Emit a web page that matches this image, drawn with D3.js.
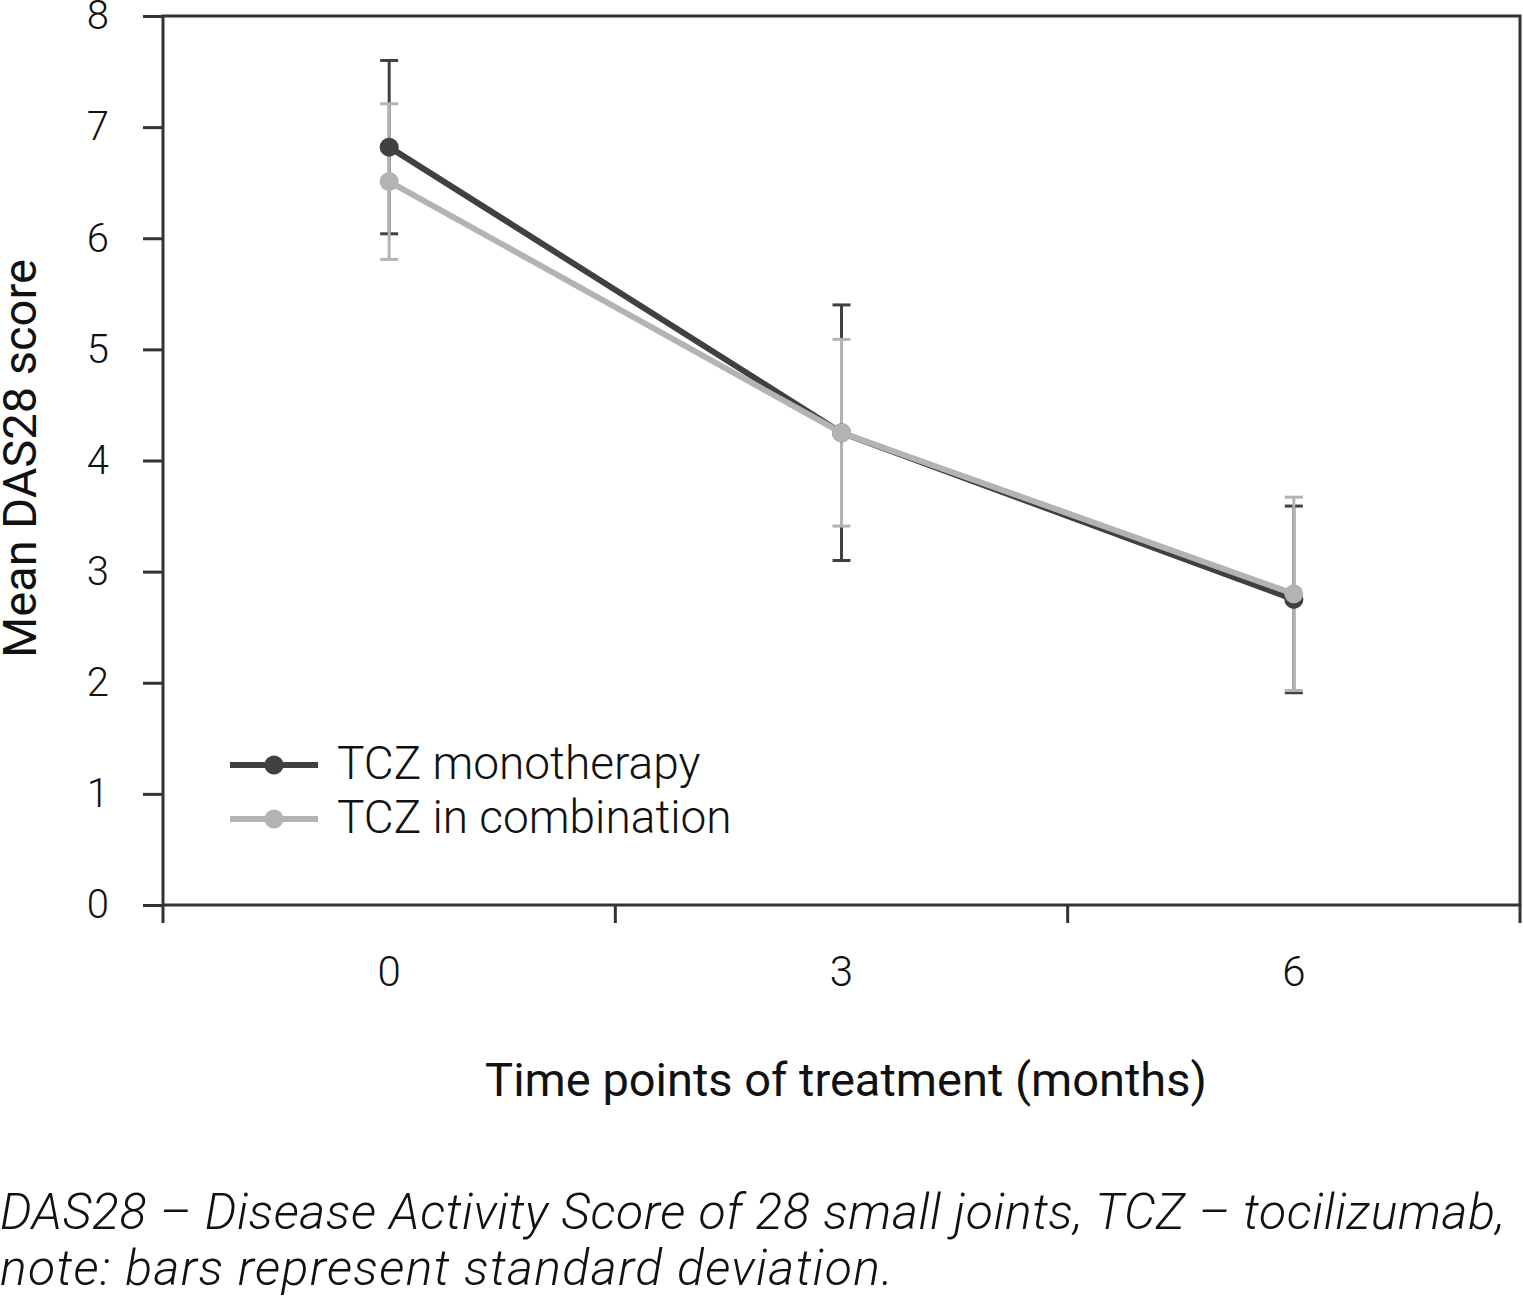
<!DOCTYPE html>
<html>
<head>
<meta charset="utf-8">
<script src="https://cdn.jsdelivr.net/npm/d3@7"></script>
<style>
  body { margin: 0; background: #fff; }
  svg text { font-family: Roboto, "Open Sans", sans-serif; fill: #111; }
</style>
</head>
<body>
<svg id="chart" width="1523" height="1308"></svg>
<script>
const months = ["0", "3", "6"];
const monoMean = [6.82, 4.25, 2.75];
const monoSD = [0.78, 1.15, 0.84];
const comboMean = [6.51, 4.25, 2.80];
const comboSD = [0.70, 0.84, 0.87];
const yTicks = [0, 1, 2, 3, 4, 5, 6, 7, 8];

const series = [
    { name: "TCZ monotherapy", mean: monoMean, sd: monoSD, color: "#404040" },
    { name: "TCZ in combination", mean: comboMean, sd: comboSD, color: "#b3b3b3" }
];

const margin = { left: 163, right: 3, top: 16, bottom: 403 };
const width = 1523 - margin.left - margin.right;
const height = 1308 - margin.top - margin.bottom;

const svg = d3.select("#chart");
const vis = svg.append("g").attr("transform", `translate(${margin.left}, ${margin.top})`);

const xScale = d3.scaleBand().domain(months).range([0, width]);
const yScale = d3.scaleLinear().domain([0, 8]).range([height, 0]);
const cx = m => xScale(m) + xScale.bandwidth() / 2;

// frame
vis.append("rect")
    .attr("x", 0).attr("y", 0)
    .attr("width", width).attr("height", height)
    .attr("fill", "none").attr("stroke", "#333").attr("stroke-width", 3);

// Y axis
const yAxis = vis.append("g")
    .call(d3.axisLeft(yScale).tickValues(yTicks).tickSize(20).tickPadding(34).tickFormat(d3.format("d")));
yAxis.select(".domain").remove();
yAxis.selectAll(".tick line").attr("stroke", "#333").attr("stroke-width", 3);
yAxis.selectAll("text").attr("font-size", 40).attr("font-weight", 300).attr("fill", "#111")
    .style("font-family", "Roboto, sans-serif");

// X axis: ticks at band boundaries, labels at centers
const bounds = [0].concat(months.map(m => xScale(m) + xScale.bandwidth()));
vis.append("g").selectAll("line").data(bounds).join("line")
    .attr("x1", d => d).attr("x2", d => d)
    .attr("y1", height).attr("y2", height + 18)
    .attr("stroke", "#333").attr("stroke-width", 3);
vis.append("g").selectAll("text").data(months).join("text")
    .attr("x", d => cx(d)).attr("y", height + 81)
    .attr("text-anchor", "middle")
    .attr("font-size", 42).attr("font-weight", 300)
    .text(d => d);

// error bars (mono first, combination on top)
series.forEach(s => {
    const g = vis.append("g").attr("stroke", s.color).attr("stroke-width", 3);
    months.forEach((m, i) => {
        const top = yScale(s.mean[i] + s.sd[i]);
        const bot = yScale(s.mean[i] - s.sd[i]);
        g.append("line").attr("x1", cx(m)).attr("x2", cx(m)).attr("y1", top).attr("y2", bot);
        g.append("line").attr("x1", cx(m) - 9).attr("x2", cx(m) + 9).attr("y1", top).attr("y2", top);
        g.append("line").attr("x1", cx(m) - 9).attr("x2", cx(m) + 9).attr("y1", bot).attr("y2", bot);
    });
});

// lines and markers
const line = d3.line().x(d => cx(d.m)).y(d => yScale(d.v));
series.forEach(s => {
    const pts = months.map((m, i) => ({ m: m, v: s.mean[i] }));
    vis.append("path")
        .attr("d", line(pts))
        .attr("fill", "none").attr("stroke", s.color).attr("stroke-width", 6);
    vis.append("g").selectAll("circle").data(pts).join("circle")
        .attr("cx", d => cx(d.m)).attr("cy", d => yScale(d.v))
        .attr("r", 9.5).attr("fill", s.color);
});

// legend
const legend = vis.append("g").attr("transform", `translate(${230 - margin.left}, ${765 - margin.top})`);
series.forEach((s, i) => {
    const g = legend.append("g").attr("transform", `translate(0, ${i * 54})`);
    g.append("line").attr("x1", 0).attr("x2", 88).attr("y1", 0).attr("y2", 0)
        .attr("stroke", s.color).attr("stroke-width", 6);
    g.append("circle").attr("cx", 44).attr("cy", 0).attr("r", 9.5).attr("fill", s.color);
    g.append("text").attr("x", 107).attr("y", 14).attr("font-size", 46).attr("font-weight", 300)
        .text(s.name);
});

// axis titles
svg.append("text")
    .attr("transform", `translate(36, ${margin.top + height / 2 - 2}) rotate(-90)`)
    .attr("text-anchor", "middle").attr("font-size", 47)
    .text("Mean DAS28 score");
svg.append("text")
    .attr("x", 846).attr("y", 1096)
    .attr("text-anchor", "middle").attr("font-size", 47)
    .text("Time points of treatment (months)");

// caption
const caption = ["DAS28 – Disease Activity Score of 28 small joints, TCZ – tocilizumab,",
                 "note: bars represent standard deviation."];
const captionWidths = [1505, 893];
svg.append("g").selectAll("text").data(caption).join("text")
    .attr("x", 0).attr("y", (d, i) => 1229 + i * 56)
    .attr("font-size", 50).attr("font-style", "italic").attr("font-weight", 300)
    .attr("textLength", (d, i) => captionWidths[i]).attr("lengthAdjust", "spacing")
    .text(d => d);
</script>
</body>
</html>
